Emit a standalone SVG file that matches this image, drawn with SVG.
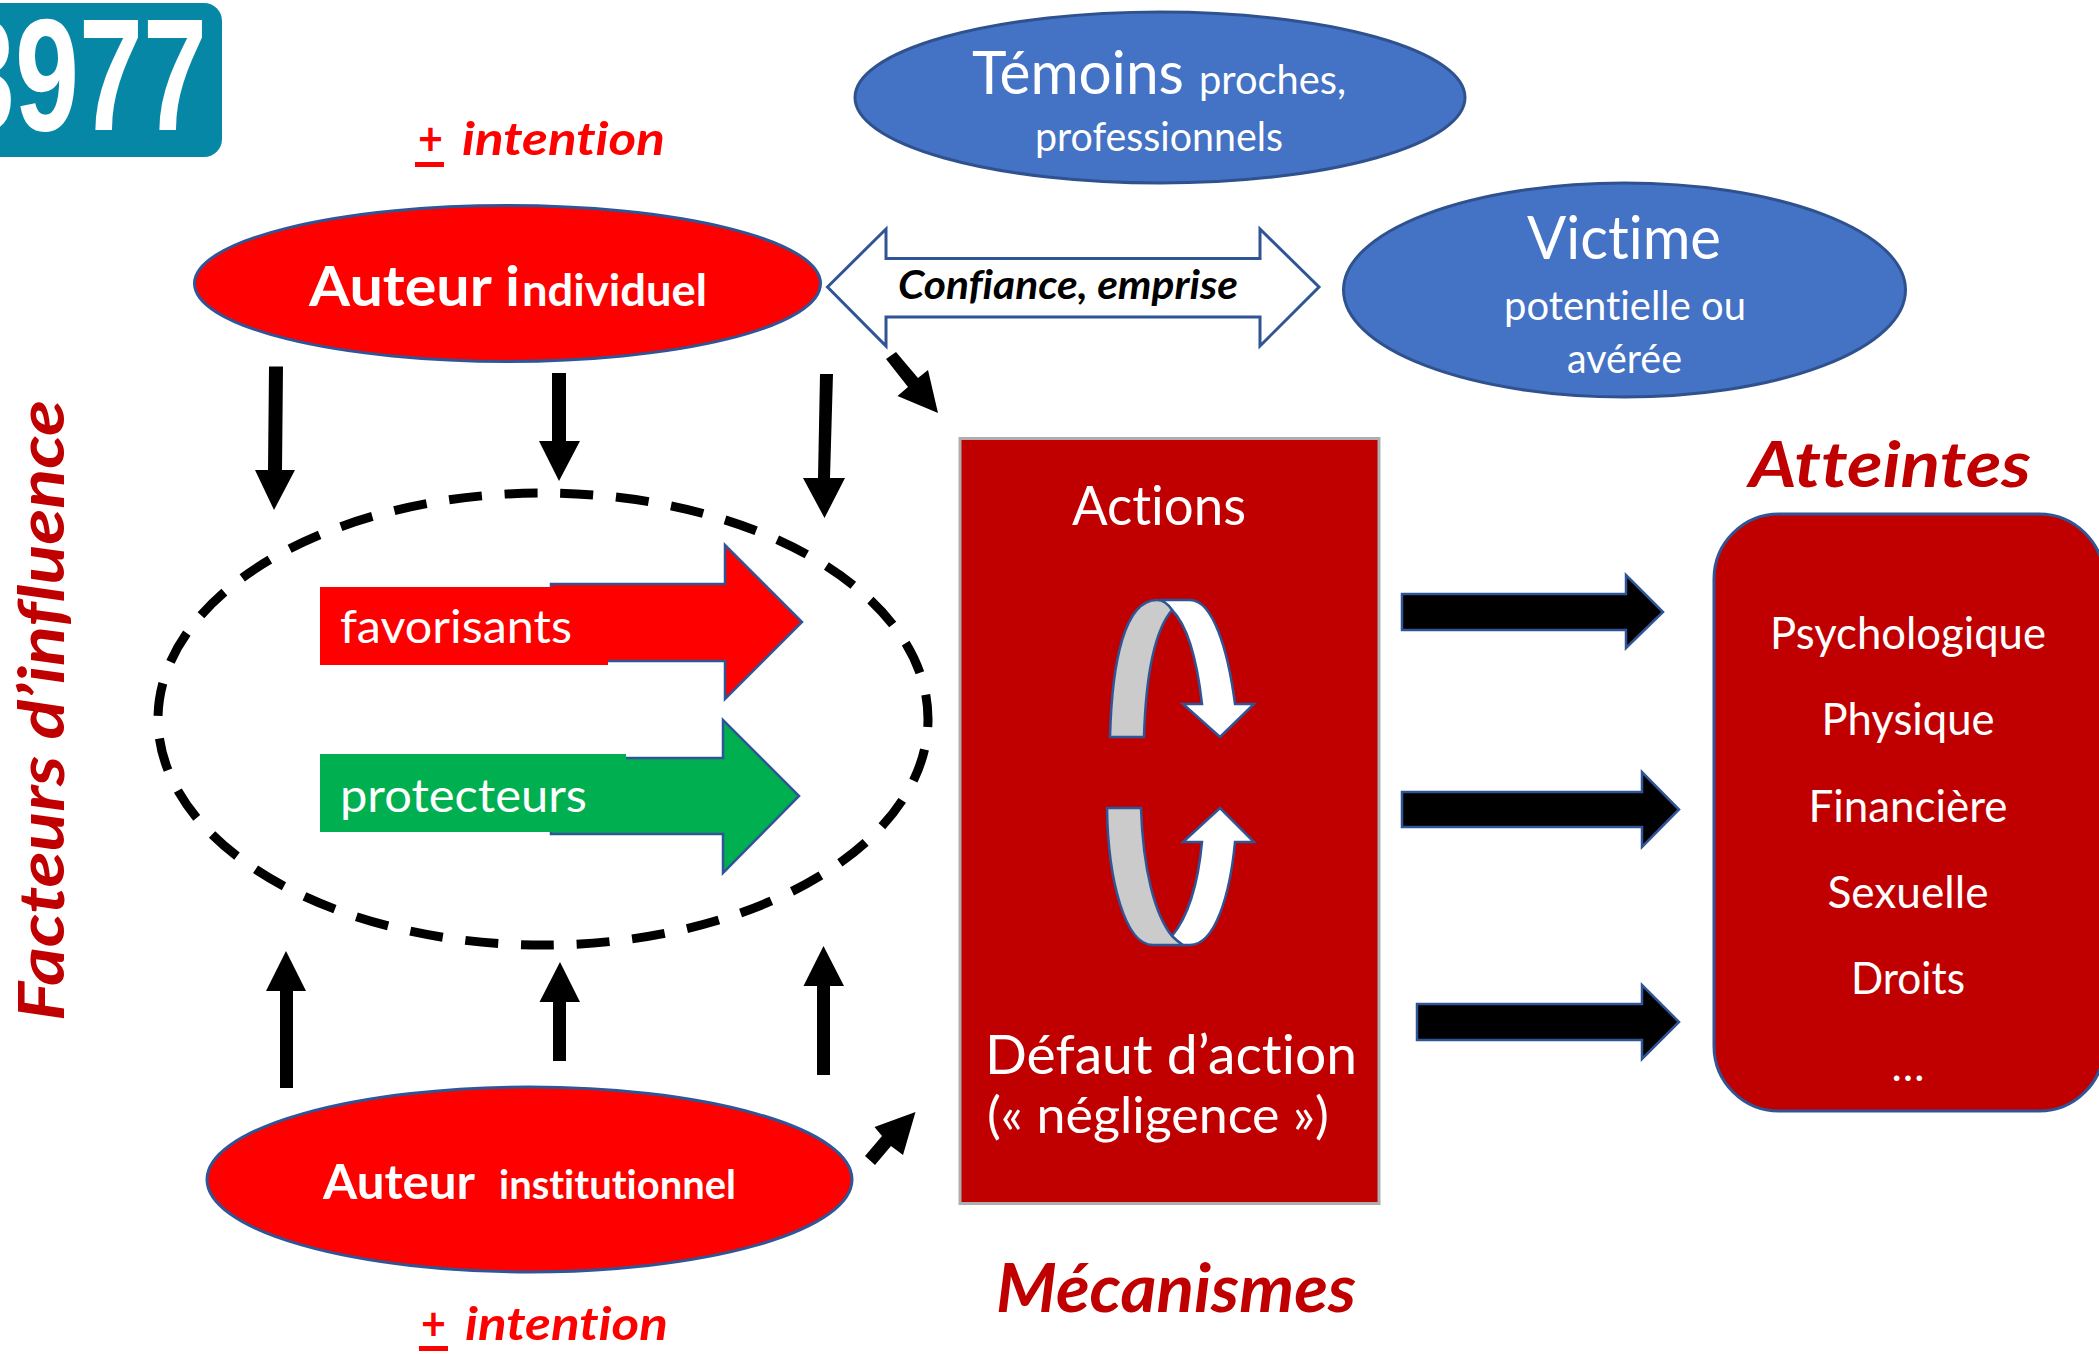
<svg xmlns="http://www.w3.org/2000/svg" width="2099" height="1354" viewBox="0 0 2099 1354">
<style>
text{font-family:Lato,"Noto Sans","Liberation Sans",sans-serif;font-variant-ligatures:none}
.w{fill:#fff}
.b{font-weight:700}
.i{font-style:italic}
.dk{fill:#c00000}
.r{fill:#f00}
.blue{fill:#4472c4;stroke:#2f528f;stroke-width:3}
.red{fill:#f00;stroke:#2f5597;stroke-width:3}
.s{stroke:#2f5597;stroke-width:2.5;stroke-linejoin:miter}
</style>
<rect width="2099" height="1354" fill="#fff"/>
<g id="logo">
<rect x="-40" y="3" width="262" height="154" rx="18" fill="#0787a6"/>
<text x="-49" y="130" font-size="159" class="w b" textLength="256" lengthAdjust="spacingAndGlyphs" style="font-family:'Liberation Sans',sans-serif">3977</text>
</g>
<g id="intention-top">
<text x="418" y="155" font-size="46" class="r b" textLength="25" lengthAdjust="spacingAndGlyphs">+</text>
<text x="462" y="155" font-size="46" class="r b i" textLength="203" lengthAdjust="spacingAndGlyphs">intention</text>
<rect x="415" y="162" width="29" height="5" fill="#f00"/>
</g>
<g id="temoins">
<ellipse cx="1160" cy="97.500" rx="305" ry="85.500" class="blue"/>
<text x="972" y="94" font-size="60" class="w" textLength="212" lengthAdjust="spacingAndGlyphs">Témoins</text>
<text x="1199" y="94" font-size="41" class="w" textLength="147" lengthAdjust="spacingAndGlyphs">proches,</text>
<text x="1035" y="151" font-size="41" class="w" textLength="248" lengthAdjust="spacingAndGlyphs">professionnels</text>
</g>
<g id="victime">
<ellipse cx="1624.500" cy="290" rx="281" ry="107" class="blue"/>
<text x="1527" y="258.500" font-size="60" class="w" textLength="194" lengthAdjust="spacingAndGlyphs">Victime</text>
<text x="1504" y="320" font-size="41" class="w" textLength="242" lengthAdjust="spacingAndGlyphs">potentielle ou</text>
<text x="1567" y="373" font-size="41" class="w" textLength="115" lengthAdjust="spacingAndGlyphs">avérée</text>
</g>
<g id="auteur-individuel">
<ellipse cx="507.500" cy="283.500" rx="313" ry="78" class="red"/>
<text x="309" y="306" font-size="56" class="w b" textLength="211" lengthAdjust="spacingAndGlyphs">Auteur i</text>
<text x="522" y="306" font-size="44" class="w b" textLength="185" lengthAdjust="spacingAndGlyphs">ndividuel</text>
</g>
<g id="auteur-institutionnel">
<ellipse cx="529.500" cy="1179.500" rx="322.500" ry="92.500" class="red"/>
<text x="323" y="1199" font-size="47" class="w b" textLength="152" lengthAdjust="spacingAndGlyphs">Auteur</text>
<text x="499" y="1199" font-size="40" class="w b" textLength="237" lengthAdjust="spacingAndGlyphs">institutionnel</text>
</g>
<g id="intention-bottom">
<text x="421" y="1340" font-size="46" class="r b" textLength="25" lengthAdjust="spacingAndGlyphs">+</text>
<text x="465" y="1340" font-size="46" class="r b i" textLength="203" lengthAdjust="spacingAndGlyphs">intention</text>
<rect x="419" y="1346" width="29" height="5" fill="#f00"/>
</g>
<g id="facteurs">
<text transform="translate(64 1021) rotate(-90)" font-size="64" class="dk b i" textLength="621" lengthAdjust="spacingAndGlyphs">Facteurs d’influence</text>
</g>
<g id="facteurs-cadre">
<ellipse cx="543" cy="719" rx="385" ry="226" fill="none" stroke="#000" stroke-width="9" stroke-dasharray="33 22.770" stroke-dashoffset="-30.800"/>
</g>
<g id="favorisants">
<path d="M551 584H725V545L802 622L725 699V661H551Z" fill="#f00" stroke="#2f5597" stroke-width="2.500"/>
<rect x="320" y="587" width="288" height="78" fill="#f00"/>
<text x="340" y="643" font-size="47" class="w" textLength="232" lengthAdjust="spacingAndGlyphs">favorisants</text>
</g>
<g id="protecteurs">
<path d="M551 758H723V720L799 796L723 873V834H551Z" fill="#00b050" stroke="#2f5597" stroke-width="2.500"/>
<rect x="320" y="754" width="306" height="78" fill="#00b050"/>
<text x="340" y="812" font-size="47" class="w" textLength="247" lengthAdjust="spacingAndGlyphs">protecteurs</text>
</g>
<g id="mecanismes">
<rect x="960" y="438.500" width="419" height="765" fill="#c00000" stroke="#aeaeae" stroke-width="3"/>
<text x="1072" y="525" font-size="54" class="w" textLength="174" lengthAdjust="spacingAndGlyphs">Actions</text>
<path class="s" fill="#fff" d="M1160 600H1190C1213 600 1228 650 1235 704H1254L1220 737L1183 704H1202C1197 660 1187 625 1172 610C1168 606 1165 602 1160 600Z"/>
<path class="s" fill="#cbcbcb" d="M1110 737C1112 660 1125 600 1157 600C1163 600 1168 604 1172 610C1155 630 1146 670 1144 737Z"/>
<path class="s" fill="#fff" d="M1172 936C1187 918 1198 885 1202 842H1183L1220 808L1254 842H1235C1230 895 1215 945 1190 945H1175Z"/>
<path class="s" fill="#cbcbcb" d="M1107 808H1141C1143 870 1155 915 1172 936C1176 940 1180 943 1183 945H1153C1125 945 1108 880 1107 808Z"/>
<text x="985" y="1073.500" font-size="54" class="w" textLength="372" lengthAdjust="spacingAndGlyphs">Défaut d’action</text>
<text x="987" y="1133" font-size="50" class="w" textLength="342" lengthAdjust="spacingAndGlyphs">(« négligence »)</text>
</g>
<g id="mecanismes-titre">
<text x="996" y="1312" font-size="66" class="dk b i" textLength="360" lengthAdjust="spacingAndGlyphs">Mécanismes</text>
</g>
<g id="atteintes">
<text x="1749" y="487" font-size="64" class="dk b i" textLength="282" lengthAdjust="spacingAndGlyphs">Atteintes</text>
<rect x="1714" y="514" width="390" height="597" rx="65" fill="#c00000" stroke="#2f5597" stroke-width="3"/>
<g class="w" font-size="44" text-anchor="middle">
<text x="1908" y="649" textLength="276" lengthAdjust="spacingAndGlyphs">Psychologique</text>
<text x="1908" y="735" textLength="173" lengthAdjust="spacingAndGlyphs">Physique</text>
<text x="1908" y="821.500" textLength="199" lengthAdjust="spacingAndGlyphs">Financière</text>
<text x="1908" y="907.500" textLength="161" lengthAdjust="spacingAndGlyphs">Sexuelle</text>
<text x="1908" y="993.500" textLength="114" lengthAdjust="spacingAndGlyphs">Droits</text>
<text x="1908" y="1081">…</text>
</g>
</g>
<g id="connectors">
<g id="confiance">
<path d="M827.500 287L886 229V258.500H1260V229L1319 287L1260 346V317H886V346Z" fill="#fff" stroke="#2f5597" stroke-width="3"/>
<text x="898" y="298.500" font-size="40" class="b i" fill="#000" textLength="340" lengthAdjust="spacingAndGlyphs">Confiance, emprise</text>
</g>
<g fill="#000">
<path d="M269 366.500H283L282 470H295L274 510L255 470H268Z"/>
<path d="M552 373H566V441H580L559 481L539 441H552Z"/>
<path d="M820 374H833L830 478H845L824.500 518L803 478H818Z"/>
<path d="M280 1088V991H266L286 951L306 991H293V1088Z"/>
<path d="M553 1061V1002H539.500L560 962L580 1002H566V1061Z"/>
<path d="M817 1075V986H803.500L823.500 946L844 986H830V1075Z"/>
<path d="M886 359L896 352L918 378L928 370L938 413L897.500 396L908 387Z"/>
<path d="M865 1156L875 1165L891 1146L903 1155L915.500 1112L874.500 1127L882 1136Z"/>
</g>
<g fill="#000" stroke="#2f5597" stroke-width="2.500">
<path d="M1402 594H1626V575L1663 612L1626 648V630H1402Z"/>
<path d="M1402 792H1642V772L1679 809.500L1642 847V827H1402Z"/>
<path d="M1417 1004H1642V985L1679 1022L1642 1059V1040H1417Z"/>
</g>
</g>
</svg>
